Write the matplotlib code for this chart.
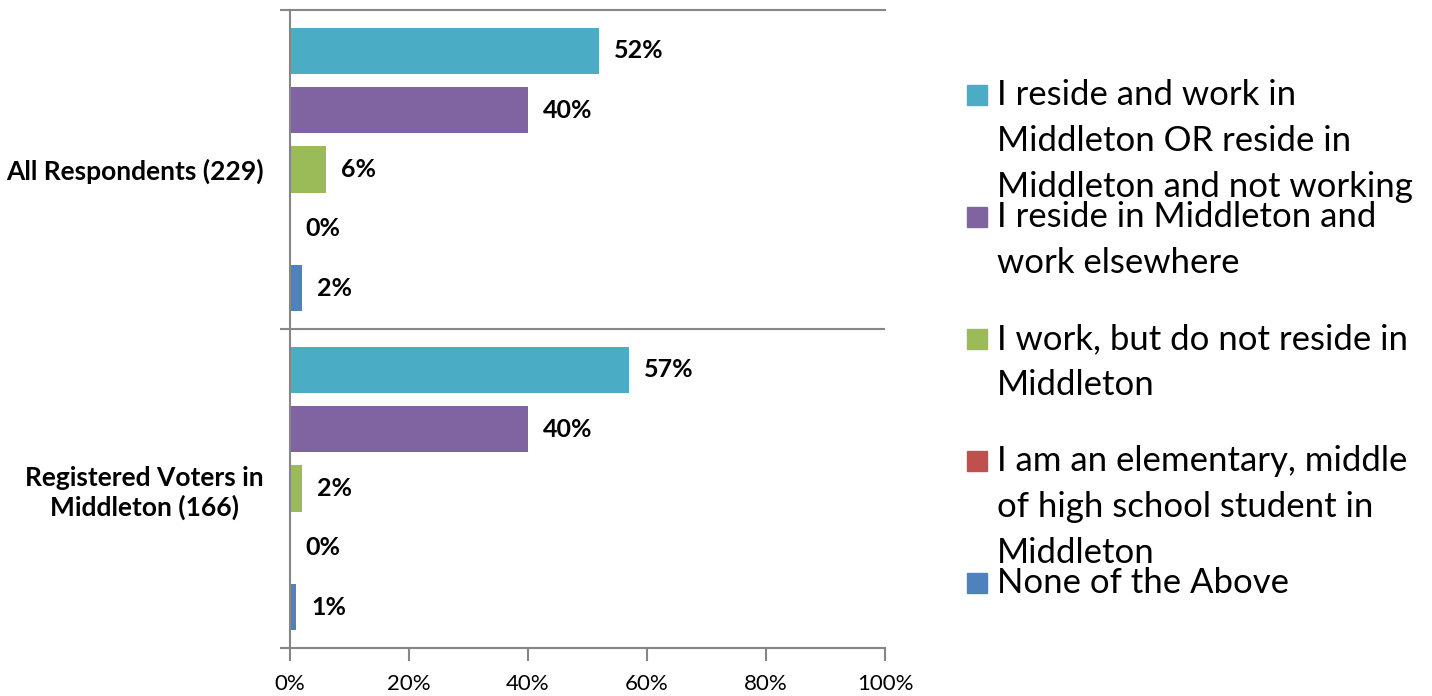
import numpy as np
import matplotlib.pyplot as plt
from matplotlib.patches import Rectangle

# -------- Data --------
groups = ["All Respondents (229)", "Registered Voters in\nMiddleton (166)"]
series = [
    "I reside and work in\nMiddleton OR reside in\nMiddleton and not working",
    "I reside in Middleton and\nwork elsewhere",
    "I work, but do not reside in\nMiddleton",
    "I am an elementary, middle\nof high school student in\nMiddleton",
    "None of the Above",
]
all_resp = [52, 40, 6, 0, 2]
registered = [57, 40, 2, 0, 1]
colors = ["#4BACC6", "#8064A2", "#9BBB59", "#C0504D", "#4F81BD"]
xticks = [0, 20, 40, 60, 80, 100]

plt.rcParams["font.family"] = ["Lato", "DejaVu Sans"]
grey = "#868686"

fig = plt.figure(figsize=(14.32, 6.96), dpi=100)
ax = fig.add_axes([290 / 1432, 1 - 648 / 696, 595 / 1432, 638 / 696])

values = np.array([all_resp, registered])
step = 0.186
for i in range(len(series)):
    ypos = np.arange(len(groups)) + (i - 2) * step
    ax.barh(ypos, values[:, i], height=0.145, color=colors[i])
    for y, v in zip(ypos, values[:, i]):
        ax.annotate(f"{v}%", (v, y), xytext=(15, 0), textcoords="offset pixels",
                    va="center", ha="left", fontsize=18, fontweight="bold")

ax.set_xlim(0, 100)
ax.set_ylim(1.5, -0.5)
ax.set_xticks(xticks)
ax.set_xticklabels([f"{t}%" for t in xticks], fontsize=16)
ax.set_yticks(range(len(groups)))
ax.set_yticklabels(groups, fontsize=19, fontweight="bold")
for lbl in ax.get_yticklabels():
    lbl.set_multialignment("center")
ax.set_yticks([-0.5, 0.5, 1.5], minor=True)
ax.tick_params(axis="y", which="major", length=0, pad=19)
ax.tick_params(axis="y", which="minor", length=7, color=grey, width=1.5)
ax.tick_params(axis="x", length=9, color=grey, width=1.5, pad=10)

for s in ["left", "bottom", "top"]:
    ax.spines[s].set_color(grey)
    ax.spines[s].set_linewidth(1.5)
ax.spines["right"].set_visible(False)
ax.axhline(0.5, color=grey, lw=1.5)

# -------- Legend (drawn by hand) --------
W, H = 1432, 696
for i, (name, c) in enumerate(zip(series, colors)):
    yc = 95 + i * 122
    fig.patches.append(Rectangle((967 / W, 1 - (yc + 10) / H), 20 / W, 20 / H,
                                 transform=fig.transFigure, color=c))
    fig.text(997 / W, 1 - (yc - 16) / H, name, fontsize=25, va="top",
             ha="left", linespacing=1.54)

fig.savefig("out.png", dpi=100)
